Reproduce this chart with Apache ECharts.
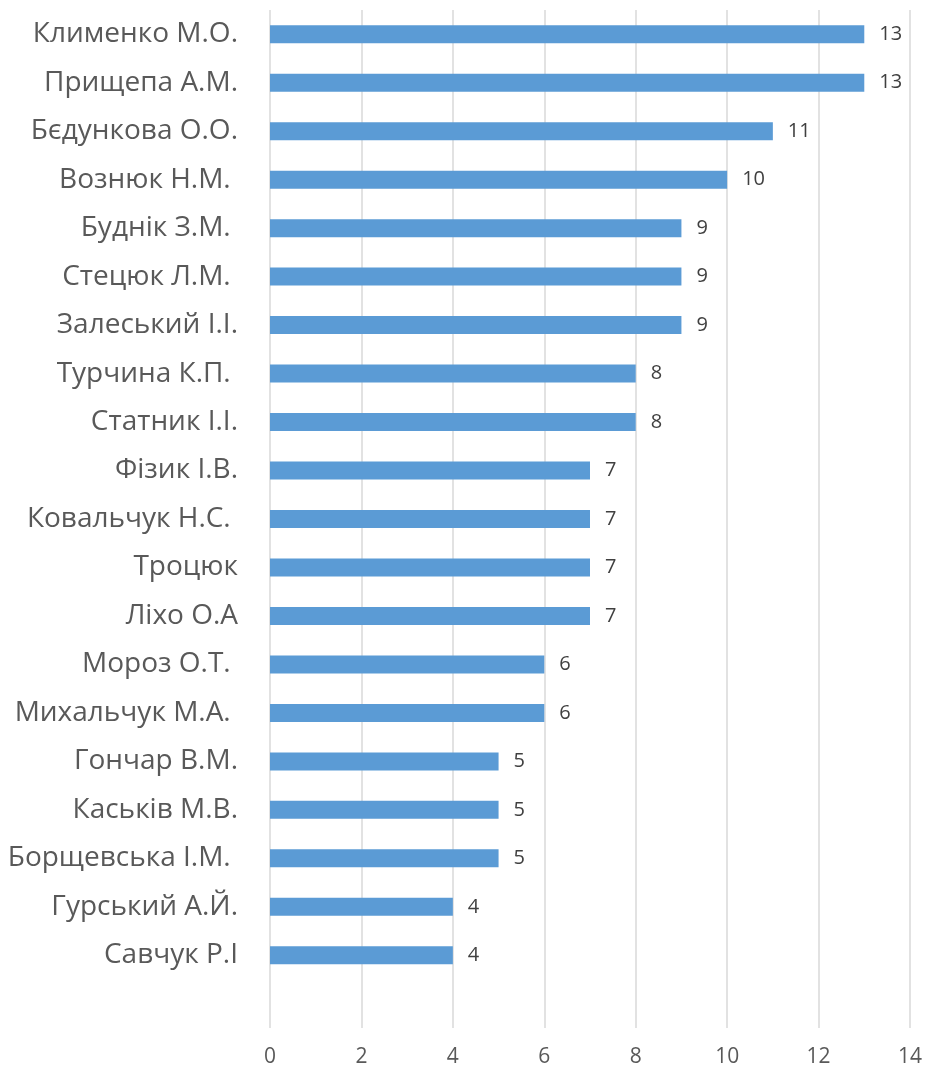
<!DOCTYPE html>
<html>
<head>
<meta charset="utf-8">
<script src="https://cdn.jsdelivr.net/npm/echarts@6/dist/echarts.min.js"></script>
<style>
  html, body { margin: 0; padding: 0; background: #fff; }
  #chart { width: 927px; height: 1071px; }
</style>
</head>
<body>
<div id="chart"></div>
<script>
// прізвища (зверху вниз), останній рядок порожній як у вихідній діаграмі
var names = [
  'Клименко М.О.', 'Прищепа А.М.', 'Бєдункова О.О.', 'Вознюк Н.М. ', 'Буднік З.М. ',
  'Стецюк Л.М. ', 'Залеський І.І.', 'Турчина К.П. ', 'Статник І.І.', 'Фізик І.В.',
  'Ковальчук Н.С. ', 'Троцюк', 'Ліхо О.А', 'Мороз О.Т. ', 'Михальчук М.А. ',
  'Гончар В.М.', 'Каськів М.В.', 'Борщевська І.М. ', 'Гурський А.Й.', 'Савчук Р.І',
  ''
];
var counts = [13, 13, 11, 10, 9, 9, 9, 8, 8, 7, 7, 7, 7, 6, 6, 5, 5, 5, 4, 4, null];

var xMin = 0, xMax = 14, xStep = 2;

var chart = echarts.init(document.getElementById('chart'));

var option = {
  animation: false,
  textStyle: { fontFamily: 'Open Sans, Noto Sans, sans-serif' },
  grid: { left: 270, right: 17, top: 10, bottom: 43 },
  xAxis: {
    type: 'value',
    min: xMin,
    max: xMax,
    interval: xStep,
    axisLine: { show: false },
    axisTick: { show: false },
    axisLabel: { color: '#595959', fontSize: 21, margin: 19 },
    splitLine: { lineStyle: { color: '#d9d9d9', width: 1.5 } }
  },
  yAxis: {
    type: 'category',
    data: names,
    inverse: true,
    axisLine: { show: false },
    axisTick: { show: false },
    axisLabel: { color: '#595959', fontSize: 28, margin: 32 }
  },
  series: [{
    type: 'bar',
    data: counts,
    barWidth: 18,
    itemStyle: { color: '#5b9bd5' },
    label: {
      show: true,
      position: 'right',
      distance: 15,
      color: '#404040',
      fontSize: 20
    }
  }]
};

chart.setOption(option);
</script>
</body>
</html>
